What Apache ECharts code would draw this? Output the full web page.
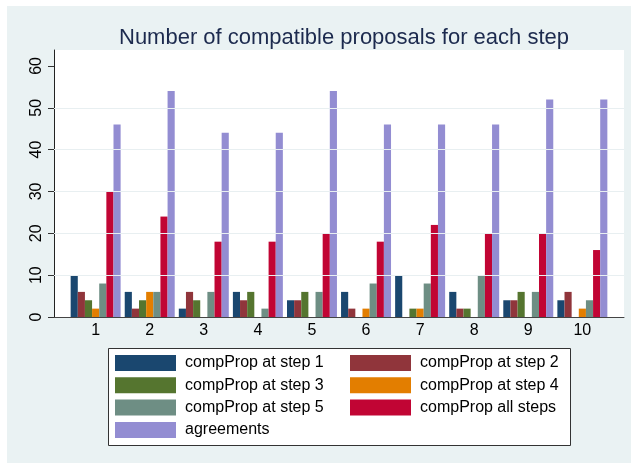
<!DOCTYPE html>
<html>
<head>
<meta charset="utf-8">
<script src="https://cdn.jsdelivr.net/npm/echarts@6/dist/echarts.min.js"></script>
<style>
html,body{margin:0;padding:0;background:#ffffff;}
#chart{position:absolute;left:7px;top:6px;width:624px;height:457px;}
</style>
</head>
<body>
<div id="chart"></div>
<script>
const categories = [1, 2, 3, 4, 5, 6, 7, 8, 9, 10];
const step1 = [10, 6, 2, 6, 4, 6, 10, 6, 4, 4];
const step2 = [6, 2, 6, 4, 4, 2, 0, 2, 4, 6];
const step3 = [4, 4, 4, 6, 6, 0, 2, 2, 6, 0];
const step4 = [2, 6, 0, 0, 0, 2, 2, 0, 0, 2];
const step5 = [8, 6, 6, 2, 6, 8, 8, 10, 6, 4];
const allSteps = [30, 24, 18, 18, 20, 18, 22, 20, 20, 16];
const agreements = [46, 54, 44, 44, 54, 46, 46, 46, 52, 52];
const yTicks = [0, 10, 20, 30, 40, 50, 60];

const seriesDefs = [
  ['compProp at step 1', step1, '#1a476f'],
  ['compProp at step 2', step2, '#90353b'],
  ['compProp at step 3', step3, '#55752f'],
  ['compProp at step 4', step4, '#e37e00'],
  ['compProp at step 5', step5, '#6e8e84'],
  ['compProp all steps', allSteps, '#c10534'],
  ['agreements', agreements, '#938dd2']
];

const font = '"Liberation Sans", Arial, sans-serif';
const chart = echarts.init(document.getElementById('chart'));

const series = seriesDefs.map(([name, arr, color]) => ({
  name: name,
  type: 'bar',
  data: categories.map((c, i) => [c, arr[i]]),
  barWidth: 7.14,
  barGap: '0%',
  itemStyle: {color: color},
  z: 3,
  animation: false
}));

series.push({
  name: 'grid',
  type: 'line',
  data: [],
  silent: true,
  z: 1,
  markLine: {
    silent: true,
    symbol: 'none',
    label: {show: false},
    lineStyle: {color: '#e8eff1', width: 1, type: 'solid'},
    data: yTicks.slice(1, -1).map(v => ({yAxis: v}))
  }
});

const legendText = {fontFamily: font, fontSize: 16, color: '#000', lineHeight: 16, padding: [0, 0, 0, 4]};

chart.setOption({
  backgroundColor: '#eaf2f3',
  animation: false,
  title: {
    text: 'Number of compatible proposals for each step',
    left: 332,
    textAlign: 'center',
    top: 16,
    textStyle: {fontFamily: font, fontSize: 22, fontWeight: 'normal', color: '#1c2a4e'}
  },
  graphic: [{
    type: 'rect',
    left: 101, top: 342,
    shape: {width: 462, height: 97},
    style: {fill: '#ffffff', stroke: '#333333', lineWidth: 1},
    z: 0
  }],
  legend: [{
    orient: 'vertical',
    left: 108, top: 349,
    padding: 0,
    itemWidth: 61, itemHeight: 16, itemGap: 6.3,
    icon: 'rect',
    textStyle: legendText,
    data: ['compProp at step 1', 'compProp at step 3', 'compProp at step 5', 'agreements'],
    selectedMode: false
  }, {
    orient: 'vertical',
    left: 343, top: 349,
    padding: 0,
    itemWidth: 61, itemHeight: 16, itemGap: 6.3,
    icon: 'rect',
    textStyle: legendText,
    data: ['compProp at step 2', 'compProp at step 4', 'compProp all steps'],
    selectedMode: false
  }],
  grid: {
    left: 47, right: 7, top: 44, bottom: 146,
    show: true, backgroundColor: '#ffffff', borderWidth: 0
  },
  xAxis: {
    type: 'value',
    min: 0.23, max: 10.77,
    axisLine: {show: true, lineStyle: {color: '#444', width: 1}},
    axisTick: {show: false},
    splitLine: {show: false},
    axisLabel: {
      customValues: categories,
      fontFamily: font, fontSize: 16, color: '#000', margin: 6,
      formatter: v => String(v)
    }
  },
  yAxis: {
    type: 'value',
    min: 0, max: 63.8,
    axisLine: {show: true, lineStyle: {color: '#222', width: 1}},
    axisTick: {show: true, customValues: yTicks, length: 6, lineStyle: {color: '#333'}},
    splitLine: {show: false},
    axisLabel: {
      customValues: yTicks,
      rotate: 90,
      fontFamily: font, fontSize: 16, color: '#000', margin: 9
    }
  },
  series: series
});
</script>
</body>
</html>
